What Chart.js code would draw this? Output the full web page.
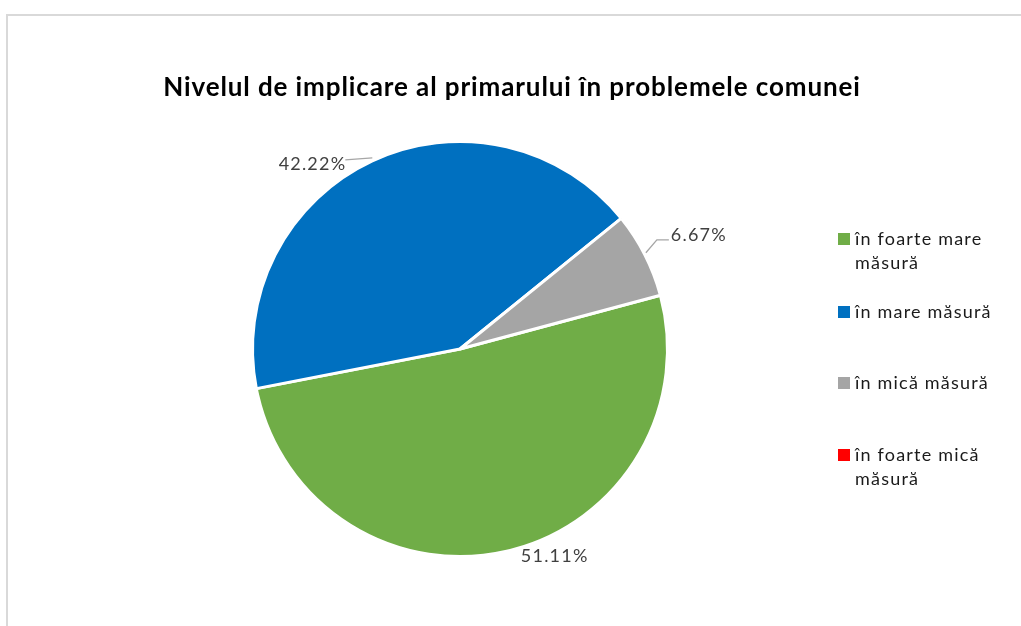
<!DOCTYPE html>
<html>
<head>
<meta charset="utf-8">
<script src="https://cdn.jsdelivr.net/npm/chart.js@4/dist/chart.umd.min.js"></script>
<style>
  html, body { margin: 0; padding: 0; background: #fff; overflow: hidden; }
  #wrap { width: 1021px; height: 626px; position: relative; }
</style>
</head>
<body>
<div id="wrap"><canvas id="pieChart"></canvas></div>
<script>
// categories and values (percent of respondents)
var categories = ['în foarte mare\nmăsură', 'în mare măsură', 'în mică măsură', 'în foarte mică\nmăsură'];
var values = [51.11, 42.22, 6.67, 0];
var colors = ['#70AD47', '#0070C0', '#A5A5A5', '#FF0000'];
var chartTitle = 'Nivelul de implicare al primarului în problemele comunei';

var FONT = 'Lato, "Open Sans", sans-serif';

// frame + title + labels + legend, drawn on top of the pie
var decorPlugin = {
  id: 'decor',
  beforeDraw: function (chart) {
    var ctx = chart.ctx;
    ctx.save();
    ctx.strokeStyle = '#d9d9d9';
    ctx.lineWidth = 2;
    ctx.strokeRect(7, 15, 1100, 700);
    ctx.restore();
  },
  afterDraw: function (chart) {
    var ctx = chart.ctx;
    ctx.save();

    // title
    ctx.fillStyle = '#000';
    ctx.font = 'bold 26px ' + FONT;
    ctx.letterSpacing = '0.9px';
    ctx.textAlign = 'center';
    ctx.textBaseline = 'middle';
    ctx.fillText(chartTitle, 512, 88);

    // data labels
    var meta = chart.getDatasetMeta(0);
    ctx.font = '18px ' + FONT;
    ctx.letterSpacing = '1.2px';
    ctx.fillStyle = '#404040';
    ctx.strokeStyle = '#a6a6a6';
    ctx.lineWidth = 1.3;
    meta.data.forEach(function (arc, i) {
      var v = values[i];
      if (!v) return;
      var mid = (arc.startAngle + arc.endAngle) / 2;
      var ex = arc.x + Math.cos(mid) * arc.outerRadius;
      var ey = arc.y + Math.sin(mid) * arc.outerRadius;
      var txt = v.toFixed(2) + '%';
      if (i === 0) {
        ctx.textAlign = 'center';
        ctx.fillText(txt, ex + 48, ey + 5);
      } else if (i === 1) {
        ctx.beginPath();
        ctx.moveTo(ex, ey - 3);
        ctx.lineTo(ex - 27, ey - 1);
        ctx.stroke();
        ctx.textAlign = 'right';
        ctx.fillText(txt, ex - 26, ey + 3);
      } else if (i === 2) {
        ctx.beginPath();
        ctx.moveTo(ex + 1, ey - 2);
        ctx.lineTo(ex + 12, ey - 15);
        ctx.lineTo(ex + 24, ey - 15);
        ctx.stroke();
        ctx.textAlign = 'left';
        ctx.fillText(txt, ex + 26, ey - 20);
      }
    });

    // legend
    var rows = [239, 312, 383, 455];
    ctx.textAlign = 'left';
    ctx.letterSpacing = '1.2px';
    categories.forEach(function (lab, i) {
      var y = rows[i];
      ctx.fillStyle = colors[i];
      ctx.fillRect(838, y - 6, 12, 12);
      ctx.fillStyle = '#1a1a1a';
      lab.split('\n').forEach(function (line, k) {
        ctx.fillText(line, 855, y + k * 24);
      });
    });
    ctx.restore();
  }
};

var ctx = document.getElementById('pieChart').getContext('2d');
var pieChart = new Chart(ctx, {
  type: 'pie',
  data: {
    labels: categories,
    datasets: [{
      data: values,
      backgroundColor: colors,
      borderColor: '#ffffff',
      borderWidth: 3
    }]
  },
  options: {
    responsive: true,
    maintainAspectRatio: false,
    animation: false,
    rotation: 75,
    layout: { padding: { left: 251, right: 352, top: 139, bottom: 67 } },
    plugins: {
      legend: { display: false },
      title: { display: false },
      tooltip: { enabled: false }
    }
  },
  plugins: [decorPlugin]
});
</script>
</body>
</html>
